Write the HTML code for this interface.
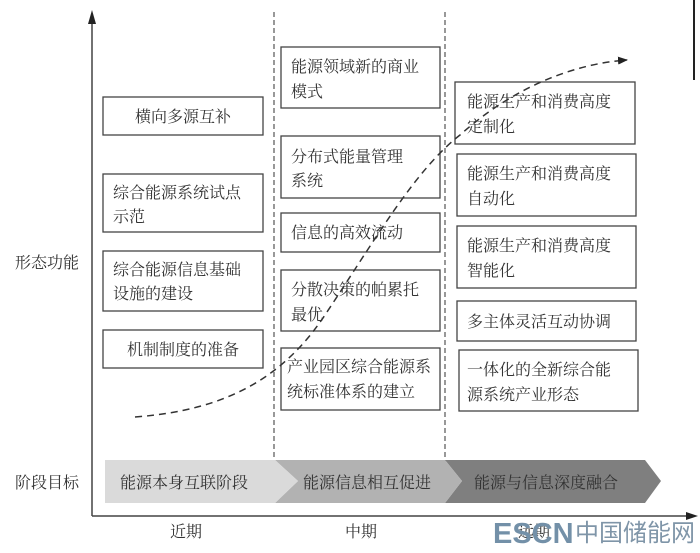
<!DOCTYPE html>
<html><head><meta charset="utf-8"><style>
body{margin:0;background:#fff}
svg text{font-family:"Liberation Serif","Noto Serif CJK SC","Noto Sans CJK SC",serif;fill:#333;font-size:16px}
</style></head><body>
<svg width="700" height="548" viewBox="0 0 700 548" xmlns="http://www.w3.org/2000/svg">
<defs><marker id="ah" markerWidth="10" markerHeight="8" refX="9" refY="4" orient="auto" markerUnits="userSpaceOnUse"><path d="M0,0 L10,4 L0,8 Z" fill="#222"/></marker></defs>
<line x1="92" y1="516" x2="92" y2="22" stroke="#444" stroke-width="1.5"/>
<path d="M88,24 L92,10 L96,24 Z" fill="#222"/>
<line x1="92" y1="516" x2="690" y2="516" stroke="#444" stroke-width="1.5"/>
<path d="M686,512 L698,516 L686,520 Z" fill="#222"/>
<line x1="694" y1="0" x2="694" y2="80" stroke="#222" stroke-width="2"/>
<line x1="274" y1="12" x2="274" y2="470" stroke="#555" stroke-width="1.2" stroke-dasharray="5,3"/>
<line x1="445" y1="12" x2="445" y2="470" stroke="#555" stroke-width="1.2" stroke-dasharray="5,3"/>
<g fill="#fff" stroke="#444" stroke-width="1.3">
<rect x="103" y="97" width="160" height="38"/>
<rect x="103" y="174" width="160" height="58"/>
<rect x="103" y="251" width="160" height="60"/>
<rect x="103" y="330" width="160" height="38"/>
<rect x="281" y="47" width="159" height="61"/>
<rect x="281" y="136" width="159" height="62"/>
<rect x="281" y="213" width="159" height="39"/>
<rect x="281" y="270" width="159" height="61"/>
<rect x="281" y="348" width="159" height="62"/>
<rect x="455" y="82" width="180" height="62"/>
<rect x="457" y="154" width="179" height="62"/>
<rect x="457" y="226" width="179" height="62"/>
<rect x="457" y="301" width="179" height="40"/>
<rect x="459" y="350" width="179" height="61"/>
</g>
<g>
<text x="183" y="122" text-anchor="middle">横向多源互补</text>
<text x="113" y="198">综合能源系统试点</text><text x="113" y="222">示范</text>
<text x="113" y="275">综合能源信息基础</text><text x="113" y="299">设施的建设</text>
<text x="183" y="355" text-anchor="middle">机制制度的准备</text>
<text x="291" y="72">能源领域新的商业</text><text x="291" y="97">模式</text>
<text x="291" y="162">分布式能量管理</text><text x="291" y="186">系统</text>
<text x="291" y="238">信息的高效流动</text>
<text x="291" y="295">分散决策的帕累托</text><text x="291" y="320">最优</text>
<text x="287" y="372">产业园区综合能源系</text><text x="287" y="397">统标准体系的建立</text>
<text x="467" y="107">能源生产和消费高度</text><text x="467" y="132">定制化</text>
<text x="467" y="179">能源生产和消费高度</text><text x="467" y="204">自动化</text>
<text x="467" y="251">能源生产和消费高度</text><text x="467" y="276">智能化</text>
<text x="467" y="327">多主体灵活互动协调</text>
<text x="467" y="375">一体化的全新综合能</text><text x="467" y="400">源系统产业形态</text>
</g>
<path d="M135,417 C230,410 285,375 325,315 C375,240 415,170 460,135 C510,90 570,64 627,60" fill="none" stroke="#333" stroke-width="1.5" stroke-dasharray="7,5" marker-end="url(#ah)"/>
<path d="M445,460 L645,460 L661,481 L645,503 L445,503 L462,481 Z" fill="#7f7f7f"/>
<path d="M275,460 L445,460 L462,481 L445,503 L275,503 L298,481 Z" fill="#b2b2b2"/>
<path d="M105,460 L275,460 L298,481 L275,503 L105,503 Z" fill="#dadada"/>
<text x="120" y="488" font-size="17">能源本身互联阶段</text>
<text x="303" y="488" font-size="17">能源信息相互促进</text>
<text x="474" y="488" font-size="17">能源与信息深度融合</text>
<text x="15" y="268" font-size="17">形态功能</text>
<text x="15" y="488" font-size="17">阶段目标</text>
<text x="170" y="537">近期</text>
<text x="345" y="537">中期</text>
<text x="518" y="537">远期</text>
<text x="493" y="543" style="fill:#7390a8;font-family:'Liberation Sans',sans-serif;font-size:29px;font-weight:bold">ESCN</text>
<text x="575" y="541" style="fill:#7f95a8;font-family:'Liberation Sans','Noto Sans CJK SC',sans-serif;font-size:24px">中国储能网</text>
</svg>
</body></html>
